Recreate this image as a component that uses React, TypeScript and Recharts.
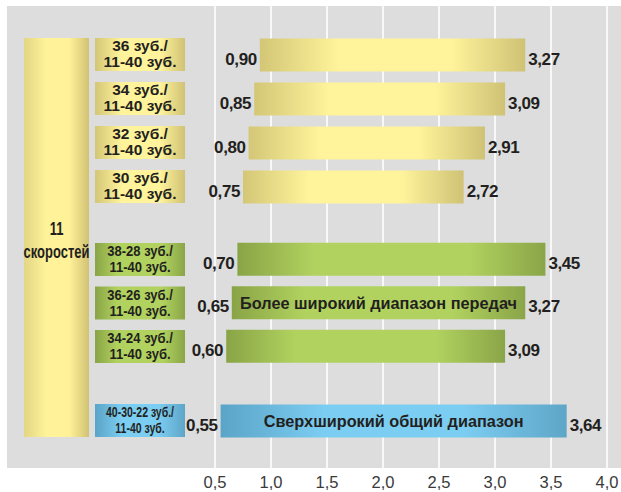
import React from 'react';
import { BarChart, Bar, XAxis, YAxis, CartesianGrid, LabelList } from 'recharts';

// Gear combinations (cassette / chainrings) and their gear ratio ranges
const yellowCats = ['36 зуб./\n11-40 зуб.', '34 зуб./\n11-40 зуб.', '32 зуб./\n11-40 зуб.', '30 зуб./\n11-40 зуб.'];
const yellowLow = [0.9, 0.85, 0.8, 0.75];
const yellowHigh = [3.27, 3.09, 2.91, 2.72];

const greenCats = ['38-28 зуб./\n11-40 зуб.', '36-26 зуб./\n11-40 зуб.', '34-24 зуб./\n11-40 зуб.'];
const greenLow = [0.7, 0.65, 0.6];
const greenHigh = [3.45, 3.27, 3.09];
const greenNotes = ['', 'Более широкий диапазон передач', ''];

const blueCats = ['40-30-22 зуб./\n11-40 зуб.'];
const blueLow = [0.55];
const blueHigh = [3.64];
const blueNotes = ['Сверхширокий общий диапазон'];

const xTicks = [0.5, 1.0, 1.5, 2.0, 2.5, 3.0, 3.5, 4.0];
const speedsLabel = ['11', 'скоростей'];

const W = 621;
const FONT = '"Liberation Sans", Arial, Helvetica, sans-serif';
const INK = '#231f20';

const build = (cats: string[], low: number[], high: number[], notes?: string[]) =>
  cats.map((c, i) => ({
    cat: c,
    range: [low[i], high[i]],
    low: low[i],
    high: high[i],
    note: notes ? notes[i] : '',
  }));

const fmt = (v: number, d: number) => v.toFixed(d).replace('.', ',');

const Defs = () => (
  <defs>
    <linearGradient id="gYellow" x1="0" y1="0" x2="1" y2="0">
      <stop offset="0%" stopColor="#d3c777" />
      <stop offset="30%" stopColor="#fff39b" />
      <stop offset="72%" stopColor="#fff39b" />
      <stop offset="100%" stopColor="#cfc275" />
    </linearGradient>
    <linearGradient id="gGreen" x1="0" y1="0" x2="1" y2="0">
      <stop offset="0%" stopColor="#89a446" />
      <stop offset="25%" stopColor="#b1d25f" />
      <stop offset="75%" stopColor="#b1d25f" />
      <stop offset="100%" stopColor="#8aa548" />
    </linearGradient>
    <linearGradient id="gBlue" x1="0" y1="0" x2="1" y2="0">
      <stop offset="0%" stopColor="#5aa4c7" />
      <stop offset="30%" stopColor="#7ccdf2" />
      <stop offset="70%" stopColor="#7ccdf2" />
      <stop offset="100%" stopColor="#5ea6c8" />
    </linearGradient>
  </defs>
);

const makeTick = (fill: string, sx: number, fs: number) => (props: any) => {
  const { y, payload } = props;
  const [l1, l2] = String(payload.value).split('\n');
  return (
    <g>
      <rect x={95} y={y - 16.5} width={90} height={33} fill={fill} />
      <text transform={`translate(140 ${y - 3.5}) scale(${sx} 1)`} textAnchor="middle" fontSize={fs} fontWeight="bold" fontFamily={FONT} fill={INK}>
        {l1}
      </text>
      <text transform={`translate(140 ${y + 12.5}) scale(${sx} 1)`} textAnchor="middle" fontSize={fs} fontWeight="bold" fontFamily={FONT} fill={INK}>
        {l2}
      </text>
    </g>
  );
};

const box = (p: any) => {
  const vb = p.viewBox || {};
  return {
    x: p.x ?? vb.x,
    y: p.y ?? vb.y,
    width: p.width ?? vb.width,
    height: p.height ?? vb.height,
  };
};

const LowLabel = (p: any) => {
  const b = box(p);
  return (
    <text x={b.x - 3} y={b.y + b.height / 2 + 9.5} textAnchor="end" fontSize={17} fontWeight="bold" fontFamily={FONT} fill={INK} letterSpacing={-0.4}>
      {fmt(Number(p.value), 2)}
    </text>
  );
};

const HighLabel = (p: any) => {
  const b = box(p);
  return (
    <text x={b.x + b.width + 3} y={b.y + b.height / 2 + 9.5} textAnchor="start" fontSize={17} fontWeight="bold" fontFamily={FONT} fill={INK} letterSpacing={-0.4}>
      {fmt(Number(p.value), 2)}
    </text>
  );
};

const NoteLabel = (p: any) => {
  if (!p.value) return null;
  const b = box(p);
  return (
    <text x={b.x + b.width / 2} y={b.y + b.height / 2 + 6} textAnchor="middle" fontSize={16.3} fontWeight="bold" fontFamily={FONT} fill={INK}>
      {p.value}
    </text>
  );
};

const XTick = (props: any) => {
  const { x, y, payload } = props;
  return (
    <text x={x} y={y} dy={20} textAnchor="middle" fontSize={16.5} fontFamily={FONT} fill="#3a3a3a">
      {fmt(payload.value, 1)}
    </text>
  );
};

interface GroupProps {
  data: any[];
  top: number;
  height: number;
  padTop: number;
  padBottom: number;
  fill: string;
  tickScale: number;
  tickFont: number;
  showAxis?: boolean;
}

const Group: React.FC<GroupProps> = ({ data, top, height, padTop, padBottom, fill, tickScale, tickFont, showAxis }) => (
  <div style={{ position: 'absolute', left: 0, top }}>
    <BarChart width={W} height={height} data={data} layout="vertical" margin={{ top: 0, right: 14, bottom: 0, left: 0 }} barCategoryGap={0}>
      <Defs />
      <CartesianGrid horizontal={false} stroke="#ffffff" strokeWidth={1.6} />
      <XAxis
        type="number"
        domain={[0.5, 4]}
        ticks={xTicks}
        allowDataOverflow
        hide={!showAxis}
        axisLine={false}
        tickLine={false}
        tickSize={0}
        tickMargin={0}
        height={24}
        tick={<XTick />}
        interval={0}
      />
      <YAxis
        type="category"
        dataKey="cat"
        width={215}
        axisLine={false}
        tickLine={false}
        padding={{ top: padTop, bottom: padBottom }}
        tick={makeTick(fill, tickScale, tickFont)}
        interval={0}
      />
      <Bar dataKey="range" fill={fill} barSize={33} isAnimationActive={false}>
        <LabelList dataKey="low" content={<LowLabel />} />
        <LabelList dataKey="high" content={<HighLabel />} />
        <LabelList dataKey="note" content={<NoteLabel />} />
      </Bar>
    </BarChart>
  </div>
);

const App: React.FC = () => {
  const yellow = build(yellowCats, yellowLow, yellowHigh);
  const green = build(greenCats, greenLow, greenHigh, greenNotes);
  const blue = build(blueCats, blueLow, blueHigh, blueNotes);

  return (
    <div style={{ position: 'absolute', left: 0, top: 0, width: W, height: 492, background: '#ffffff', fontFamily: FONT }}>
      <div style={{ position: 'absolute', left: 7, top: 6, width: 614, height: 462, background: '#dcdddc' }} />
      <div
        style={{
          position: 'absolute',
          left: 24,
          top: 38,
          width: 65,
          height: 399,
          background: 'linear-gradient(to right, #e3d684 0%, #fff39a 35%, #fff198 70%, #d0c273 100%)',
        }}
      />
      <div style={{ position: 'absolute', left: 6, top: 218, width: 101, textAlign: 'center', fontWeight: 'bold', fontSize: 18, lineHeight: '23px', color: INK }}>
        {speedsLabel.map((s) => (
          <div key={s} style={{ transform: 'scaleX(0.72)' }}>{s}</div>
        ))}
      </div>
      <Group data={yellow} top={6} height={216} padTop={26.5} padBottom={13.5} fill="url(#gYellow)" tickScale={1} tickFont={15.5} />
      <Group data={green} top={222} height={161} padTop={15.75} padBottom={14.75} fill="url(#gGreen)" tickScale={0.84} tickFont={15.5} />
      <Group data={blue} top={383} height={109} padTop={15.5} padBottom={25.5} fill="url(#gBlue)" tickScale={0.7} tickFont={15} showAxis />
    </div>
  );
};

export default App;
